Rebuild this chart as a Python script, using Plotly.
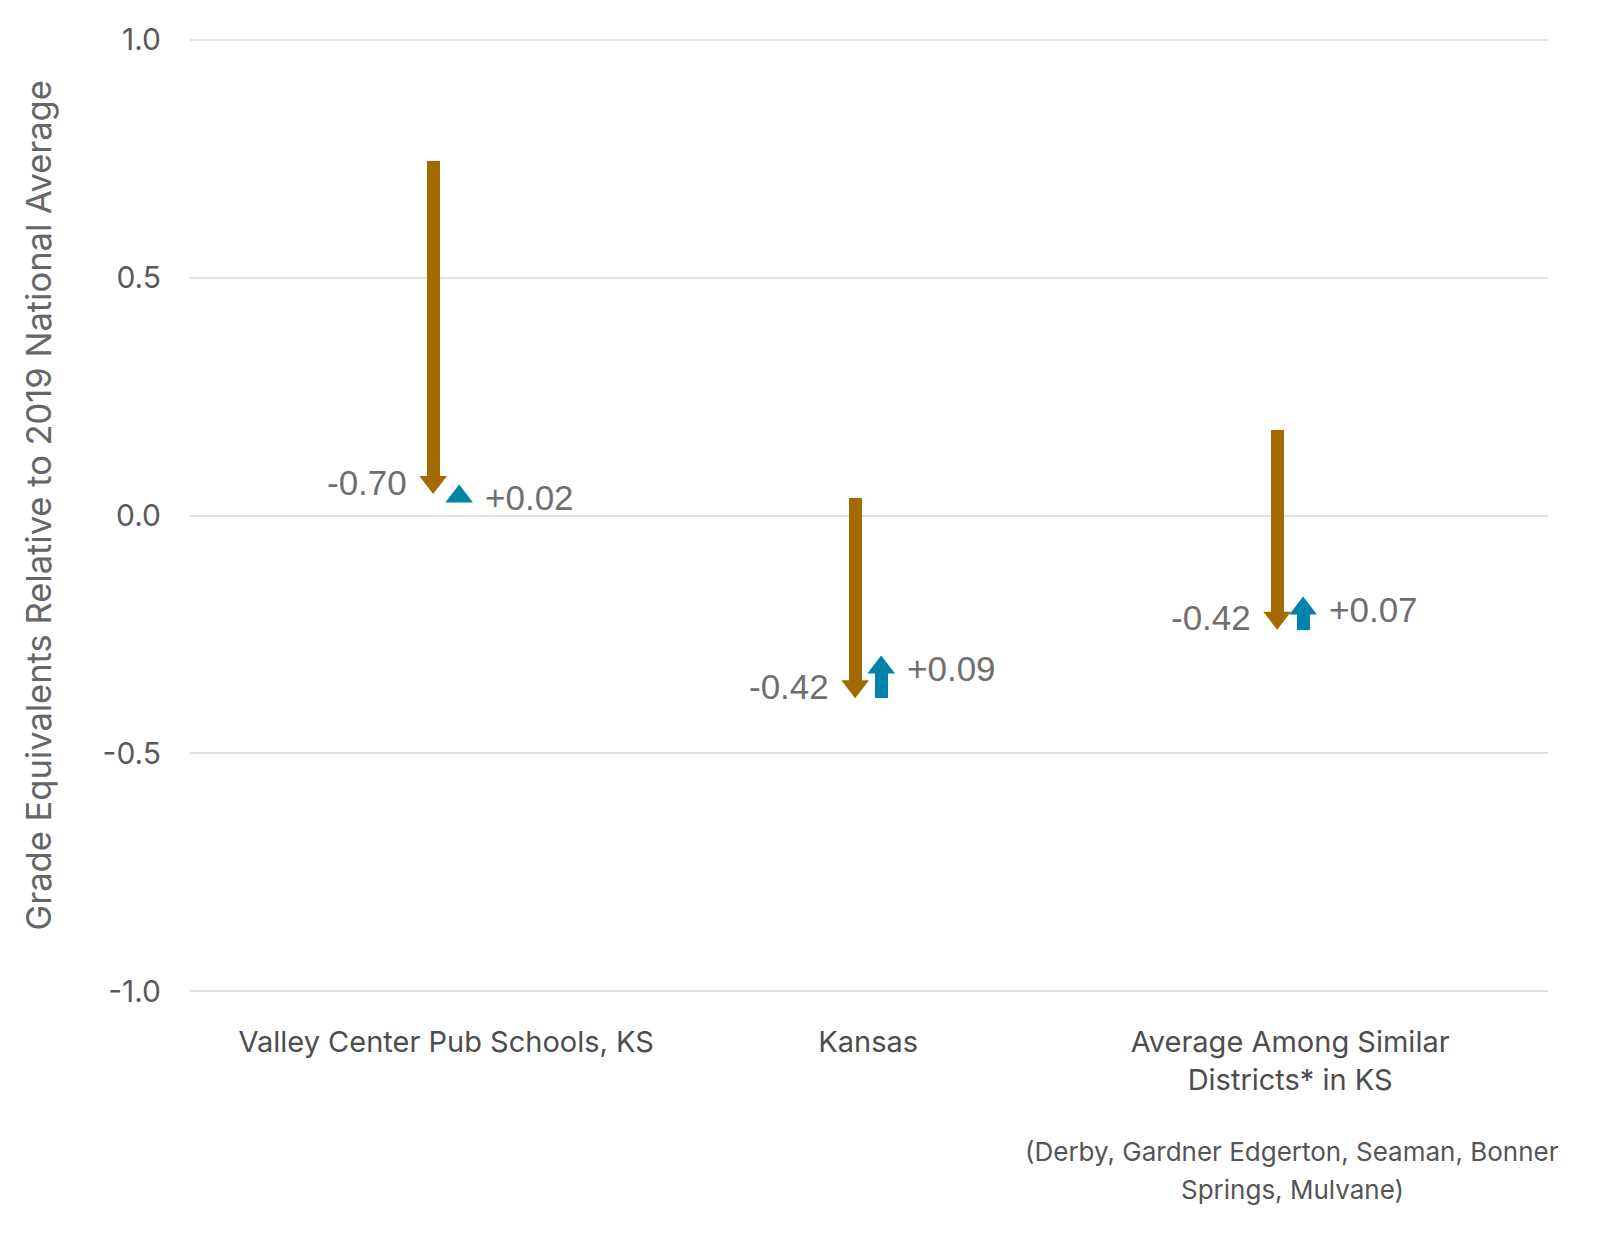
import plotly.graph_objects as go

# ---------------- data ----------------
categories = ["Valley Center Pub Schools, KS", "Kansas", "Average Among Similar<br>Districts* in KS"]
start_2019 = [0.745, 0.036, 0.180]
change_first = [-0.70, -0.42, -0.42]
change_second = [0.02, 0.09, 0.07]
y_ticks = [1.0, 0.5, 0.0, -0.5, -1.0]
y_title = "Grade Equivalents Relative to 2019 National Average"
footnote_lines = ["(Derby, Gardner Edgerton, Seaman, Bonner", "Springs, Mulvane)"]

# ---------------- styling / layout geometry ----------------
W, H = 1600, 1234
M = dict(l=190, r=52, t=30, b=233)
y_range = [-1.02, 1.02]
x_range = [-0.607, 2.611]
plot_h = H - M["t"] - M["b"]
plot_w = W - M["l"] - M["r"]
ppu_y = plot_h / (y_range[1] - y_range[0])
ppu_x = plot_w / (x_range[1] - x_range[0])

BROWN = "#A36A00"
BLUE = "#0083AA"
shaft_px = 13
head_size = 24          # triangle marker size (px)
offset_px = 13          # horizontal offset of each arrow from category centre

dx = offset_px / ppu_x
shaft_w = shaft_px / ppu_x
head_c = (head_size / 2) / ppu_y   # distance from tip to marker centre (data units)

xs = list(range(len(categories)))
x_brown = [x - dx for x in xs]
x_blue = [x + dx for x in xs]

end_first = [s + c for s, c in zip(start_2019, change_first)]
end_second = [e + c for e, c in zip(end_first, change_second)]

fig = go.Figure()

# brown shafts (bars from start to head centre)
brown_head_y = [e + head_c for e in end_first]
fig.add_trace(go.Bar(
    x=x_brown, base=start_2019,
    y=[h - s for h, s in zip(brown_head_y, start_2019)],
    width=shaft_w, marker=dict(color=BROWN, line=dict(width=0)),
    hoverinfo="skip", showlegend=False))
fig.add_trace(go.Scatter(
    x=x_brown, y=brown_head_y, mode="markers",
    marker=dict(symbol="triangle-down", size=head_size, color=BROWN, line=dict(width=0)),
    hoverinfo="skip", showlegend=False))

# blue shafts
blue_head_y = [e - head_c for e in end_second]
fig.add_trace(go.Bar(
    x=x_blue, base=end_first,
    y=[h - s for h, s in zip(blue_head_y, end_first)],
    width=shaft_w, marker=dict(color=BLUE, line=dict(width=0)),
    hoverinfo="skip", showlegend=False))
fig.add_trace(go.Scatter(
    x=x_blue, y=blue_head_y, mode="markers",
    marker=dict(symbol="triangle-up", size=head_size, color=BLUE, line=dict(width=0)),
    hoverinfo="skip", showlegend=False))

# value labels
label_font = dict(family="Liberation Sans, Arial, sans-serif", size=35, color="#6f6f6f")
for xb, xbl, e1, e2, c1, c2 in zip(x_brown, x_blue, end_first, end_second, change_first, change_second):
    fig.add_annotation(x=xb, y=e1, text=f"{c1:+.2f}", showarrow=False,
                       xanchor="right", yanchor="middle", xshift=-24, yshift=12, font=label_font)
    fig.add_annotation(x=xbl, y=e2, text=f"{c2:+.2f}", showarrow=False,
                       xanchor="left", yanchor="middle", xshift=24, yshift=-13, font=label_font)

# footnote under third category
for i, line in enumerate(footnote_lines):
    fig.add_annotation(x=xs[2], y=0, xref="x", yref="paper", text=line, showarrow=False,
                       xanchor="center", yanchor="middle", xshift=2, yshift=-(150 + 38 * i),
                       font=dict(family="Inter, sans-serif", size=26, color="#555555"))

# y-axis title (as rotated annotation so it can sit slightly above plot centre)
fig.add_annotation(x=0, y=0.5, xref="paper", yref="paper", text=y_title, showarrow=False,
                   textangle=-90, xanchor="center", yanchor="middle", xshift=-152, yshift=10,
                   font=dict(family="Inter, sans-serif", size=34.5, color="#666666"))

fig.update_layout(
    width=W, height=H, margin=M,
    plot_bgcolor="white", paper_bgcolor="white",
    barmode="overlay", bargap=0,
    font=dict(family="Inter, sans-serif", color="#555555"),
)
fig.update_xaxes(
    range=x_range, tickmode="array", tickvals=xs, ticktext=categories,
    showgrid=False, zeroline=False, showline=False,
    ticks="outside", ticklen=15, tickcolor="rgba(0,0,0,0)",
    tickfont=dict(family="Inter, sans-serif", size=29, color="#4d4d4d"),
)
fig.update_yaxes(
    range=y_range, tickmode="array", tickvals=y_ticks,
    ticktext=[f"{v:.1f}" for v in y_ticks],
    showgrid=True, gridcolor="#e2e2e2", gridwidth=2, zeroline=False, showline=False,
    ticks="outside", ticklen=22, tickcolor="rgba(0,0,0,0)",
    tickfont=dict(family="Inter, sans-serif", size=30, color="#5a5a5a"),
)

fig.write_html(
    "out.html",
    config={"displayModeBar": False},
    post_script="document.body.style.margin='0';document.body.style.overflow='hidden';",
)
